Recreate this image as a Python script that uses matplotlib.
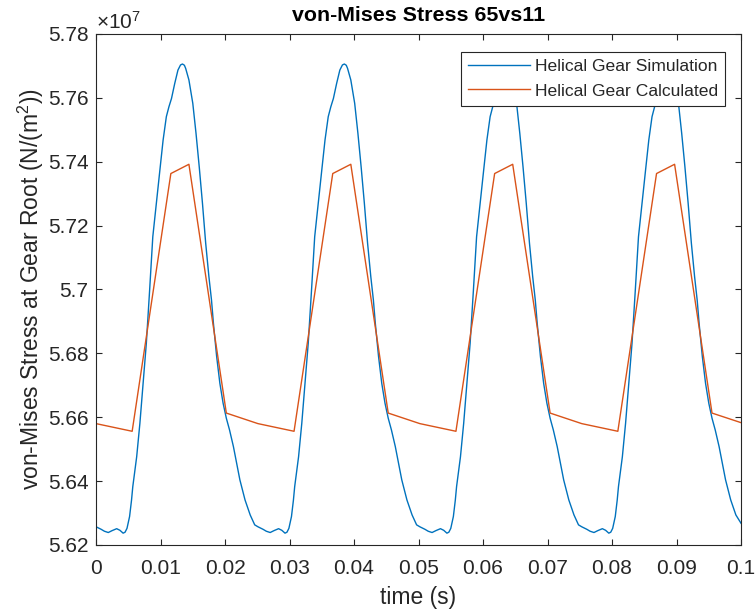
import matplotlib
matplotlib.use("Agg")
import matplotlib.pyplot as plt
import numpy as np

plt.rcParams["font.family"] = ["Liberation Sans", "DejaVu Sans"]
plt.rcParams["mathtext.fontset"] = "custom"
plt.rcParams["mathtext.rm"] = "Liberation Sans"
plt.rcParams["mathtext.it"] = "Liberation Sans:italic"

# time axis (s) and stress (units of 1e7 N/m^2) for the simulated gear
sim_time = [
    0.0000, 0.0004, 0.0008, 0.0013, 0.0019, 0.0025, 0.0032, 0.0037, 0.0042, 0.0045,
    0.0048, 0.0052, 0.0055, 0.0057, 0.0063, 0.0068, 0.0073, 0.0078, 0.0083, 0.0088,
    0.0094, 0.0099, 0.0104, 0.0109, 0.0113, 0.0117, 0.0122, 0.0127, 0.0131, 0.0134,
    0.0137, 0.0139, 0.0144, 0.0150, 0.0155, 0.0160, 0.0165, 0.0170, 0.0175, 0.0179,
    0.0182, 0.0187, 0.0192, 0.0197, 0.0202, 0.0207, 0.0213, 0.0218, 0.0223, 0.0231,
    0.0239, 0.0246,
    0.0251, 0.0255, 0.0259, 0.0264, 0.0270, 0.0276, 0.0283, 0.0288, 0.0293, 0.0296,
    0.0299, 0.0303, 0.0306, 0.0308, 0.0314, 0.0319, 0.0324, 0.0329, 0.0334, 0.0339,
    0.0345, 0.0350, 0.0355, 0.0360, 0.0364, 0.0368, 0.0373, 0.0378, 0.0382, 0.0385,
    0.0388, 0.0390, 0.0395, 0.0401, 0.0406, 0.0411, 0.0416, 0.0421, 0.0426, 0.0430,
    0.0433, 0.0438, 0.0443, 0.0448, 0.0453, 0.0458, 0.0464, 0.0469, 0.0474, 0.0482,
    0.0490, 0.0497,
    0.0502, 0.0506, 0.0510, 0.0515, 0.0521, 0.0527, 0.0534, 0.0539, 0.0544, 0.0547,
    0.0550, 0.0554, 0.0557, 0.0559, 0.0565, 0.0570, 0.0575, 0.0580, 0.0585, 0.0590,
    0.0596, 0.0601, 0.0606, 0.0611, 0.0615, 0.0619, 0.0624, 0.0629, 0.0633, 0.0636,
    0.0639, 0.0641, 0.0646, 0.0652, 0.0657, 0.0662, 0.0667, 0.0672, 0.0677, 0.0681,
    0.0684, 0.0689, 0.0694, 0.0699, 0.0704, 0.0709, 0.0715, 0.0720, 0.0725, 0.0733,
    0.0741, 0.0748,
    0.0753, 0.0757, 0.0761, 0.0766, 0.0772, 0.0778, 0.0785, 0.0790, 0.0795, 0.0798,
    0.0801, 0.0805, 0.0808, 0.0810, 0.0816, 0.0821, 0.0826, 0.0831, 0.0836, 0.0841,
    0.0847, 0.0852, 0.0857, 0.0862, 0.0866, 0.0870, 0.0875, 0.0880, 0.0884, 0.0887,
    0.0890, 0.0892, 0.0897, 0.0903, 0.0908, 0.0913, 0.0918, 0.0923, 0.0928, 0.0932,
    0.0935, 0.0940, 0.0945, 0.0950, 0.0955, 0.0960, 0.0966, 0.0971, 0.0976, 0.0984,
    0.0992, 0.1000,
]
sim_stress = [
    5.6257, 5.6253, 5.6249, 5.6243, 5.6239, 5.6245, 5.6251, 5.6246, 5.6237, 5.6240,
    5.6252, 5.6289, 5.6340, 5.6383, 5.6476, 5.6581, 5.6706, 5.6832, 5.6995, 5.7165,
    5.7280, 5.7374, 5.7468, 5.7541, 5.7572, 5.7598, 5.7645, 5.7687, 5.7703, 5.7706,
    5.7702, 5.7692, 5.7656, 5.7583, 5.7489, 5.7384, 5.7270, 5.7145, 5.7040, 5.6967,
    5.6894, 5.6790, 5.6706, 5.6644, 5.6597, 5.6560, 5.6508, 5.6456, 5.6404, 5.6341,
    5.6294, 5.6263,
    5.6257, 5.6253, 5.6249, 5.6243, 5.6239, 5.6245, 5.6251, 5.6246, 5.6237, 5.6240,
    5.6252, 5.6289, 5.6340, 5.6383, 5.6476, 5.6581, 5.6706, 5.6832, 5.6995, 5.7165,
    5.7280, 5.7374, 5.7468, 5.7541, 5.7572, 5.7598, 5.7645, 5.7687, 5.7703, 5.7706,
    5.7702, 5.7692, 5.7656, 5.7583, 5.7489, 5.7384, 5.7270, 5.7145, 5.7040, 5.6967,
    5.6894, 5.6790, 5.6706, 5.6644, 5.6597, 5.6560, 5.6508, 5.6456, 5.6404, 5.6341,
    5.6294, 5.6263,
    5.6257, 5.6253, 5.6249, 5.6243, 5.6239, 5.6245, 5.6251, 5.6246, 5.6237, 5.6240,
    5.6252, 5.6289, 5.6340, 5.6383, 5.6476, 5.6581, 5.6706, 5.6832, 5.6995, 5.7165,
    5.7280, 5.7374, 5.7468, 5.7541, 5.7572, 5.7598, 5.7645, 5.7687, 5.7703, 5.7706,
    5.7702, 5.7692, 5.7656, 5.7583, 5.7489, 5.7384, 5.7270, 5.7145, 5.7040, 5.6967,
    5.6894, 5.6790, 5.6706, 5.6644, 5.6597, 5.6560, 5.6508, 5.6456, 5.6404, 5.6341,
    5.6294, 5.6263,
    5.6257, 5.6253, 5.6249, 5.6243, 5.6239, 5.6245, 5.6251, 5.6246, 5.6237, 5.6240,
    5.6252, 5.6289, 5.6340, 5.6383, 5.6476, 5.6581, 5.6706, 5.6832, 5.6995, 5.7165,
    5.7280, 5.7374, 5.7468, 5.7541, 5.7572, 5.7598, 5.7645, 5.7687, 5.7703, 5.7706,
    5.7702, 5.7692, 5.7656, 5.7583, 5.7489, 5.7384, 5.7270, 5.7145, 5.7040, 5.6967,
    5.6894, 5.6790, 5.6706, 5.6644, 5.6597, 5.6560, 5.6508, 5.6456, 5.6404, 5.6341,
    5.6294, 5.6268,
]

# analytically calculated root stress (piecewise linear)
calc_time = [0.0000, 0.0056, 0.0116, 0.0144, 0.0202,
             0.0251, 0.0307, 0.0367, 0.0395, 0.0453,
             0.0502, 0.0558, 0.0618, 0.0646, 0.0704,
             0.0753, 0.0809, 0.0869, 0.0897, 0.0955,
             0.1000]
calc_stress = [5.6580, 5.6556, 5.7363, 5.7392, 5.6613,
               5.6580, 5.6556, 5.7363, 5.7392, 5.6613,
               5.6580, 5.6556, 5.7363, 5.7392, 5.6613,
               5.6580, 5.6556, 5.7363, 5.7392, 5.6613,
               5.6583]

x_ticks = [0, 0.01, 0.02, 0.03, 0.04, 0.05, 0.06, 0.07, 0.08, 0.09, 0.1]
x_tick_labels = ["0", "0.01", "0.02", "0.03", "0.04", "0.05", "0.06", "0.07", "0.08", "0.09", "0.1"]
y_ticks = [5.62, 5.64, 5.66, 5.68, 5.70, 5.72, 5.74, 5.76, 5.78]
y_tick_labels = ["5.62", "5.64", "5.66", "5.68", "5.7", "5.72", "5.74", "5.76", "5.78"]

series_names = ["Helical Gear Simulation", "Helical Gear Calculated"]
BLUE = "#0072BD"
ORANGE = "#D95319"
AXIS_GRAY = "#262626"

fig = plt.figure(figsize=(7.55, 6.10), dpi=100)
ax = fig.add_axes([0.1272, 0.1066, 0.8543, 0.8377])

ax.plot(sim_time, sim_stress, color=BLUE, lw=1.0, label=series_names[0])
ax.plot(calc_time, calc_stress, color=ORANGE, lw=1.0, label=series_names[1])

ax.set_xlim(0, 0.1)
ax.set_ylim(5.62, 5.78)
ax.set_xticks(x_ticks)
ax.set_xticklabels(x_tick_labels)
ax.set_yticks(y_ticks)
ax.set_yticklabels(y_tick_labels)

for side in ax.spines.values():
    side.set_color(AXIS_GRAY)
    side.set_linewidth(0.8)
ax.tick_params(direction="in", length=4.6, width=0.8, color=AXIS_GRAY,
               labelcolor=AXIS_GRAY, labelsize=15, top=True, right=True)
ax.tick_params(axis="x", pad=10)
ax.tick_params(axis="y", pad=5.5)

ax.set_xlabel("time (s)", fontsize=16.5, color=AXIS_GRAY, labelpad=6)
ax.set_ylabel(r"von-Mises Stress at Gear Root (N/(m$^{2}$))", fontsize=16.5,
              color=AXIS_GRAY, labelpad=1)
ax.set_title("von-Mises Stress 65vs11", fontsize=15.4, fontweight="bold",
             color="black", pad=9)
ax.text(0.0, 1.003, r"$\times10^{7}$", transform=ax.transAxes, fontsize=15,
        color=AXIS_GRAY, ha="left", va="bottom")

leg = ax.legend(loc="upper right", bbox_to_anchor=(725 / 755, 1 - 52 / 610),
                bbox_transform=fig.transFigure, borderaxespad=0, fontsize=12.6,
                frameon=True, fancybox=False, framealpha=1, edgecolor=AXIS_GRAY,
                handlelength=3.5, handletextpad=0.3, labelspacing=0.52,
                borderpad=0.4)
leg.get_frame().set_linewidth(0.8)
for txt in leg.get_texts():
    txt.set_color(AXIS_GRAY)

fig.savefig("out.png", dpi=100)
